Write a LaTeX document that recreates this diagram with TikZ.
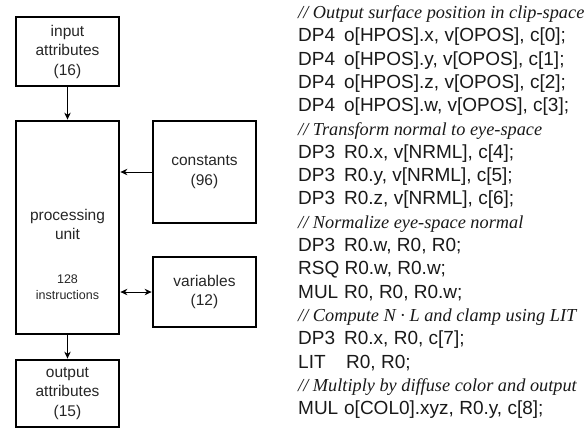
\documentclass[tikz,border=0pt]{standalone}
\usepackage{fontspec}
\setmainfont{Liberation Serif}
\setsansfont{Liberation Sans}
\usetikzlibrary{arrows.meta}
\newcommand{\mn}[2]{\makebox[#1pt][l]{#2}}
\begin{document}
\begin{tikzpicture}[x=1pt,y=-1pt,
 box/.style={draw=black, line width=1.8pt, rectangle, inner sep=0pt, minimum width=103pt,
   font=\sffamily\fontsize{15.5}{19.5}\selectfont, align=center, text=black!85},
 small/.style={font=\sffamily\fontsize{12.5}{15.5}\selectfont, align=center, text=black!85, inner sep=0pt},
 code/.style={font=\sffamily\fontsize{19}{22}\selectfont, anchor=base west, inner sep=0pt, text=black!90},
 cmt/.style={font=\rmfamily\itshape\fontsize{18.3}{22}\selectfont, anchor=base west, inner sep=0pt, text=black!90},
 arr/.style={line width=0.9pt, -{Stealth[length=7pt,width=6.5pt]}, shorten >=0.5pt},
 darr/.style={line width=0.9pt, {Stealth[length=7pt,width=6.5pt]}-{Stealth[length=7pt,width=6.5pt]}, shorten >=0.5pt, shorten <=0.5pt},
]
\useasboundingbox (0,0) rectangle (587,429);
% boxes
\node[box, minimum height=69pt] (in) at (67.5,51.5) {input\\attributes\\(16)};
\node[box, minimum height=213pt] (pu) at (67.5,227.5) {};
\node[small, font=\sffamily\fontsize{15.5}{19}\selectfont] (pul) at (67.5,224) {processing\\unit};
\node[small] (pui) at (67.5,287) {128\\instructions};
\node[box, minimum height=102pt] (con) at (204.5,172) {constants\\(96)};
\node[box, minimum height=70pt] (var) at (204.5,292) {variables\\(12)};
\node[box, minimum height=67pt] (out) at (67.5,393.5) {output\\attributes\\(15)};
% connectors
\draw[arr] (in.south) -- (pu.north);
\draw[arr] (pu.south) -- (out.north);
\draw[arr] (con.west) -- (pu.east |- con.west);
\draw[darr] (var.west) -- (pu.east |- var.west);
% code
\node[cmt]  (l1)  at (298,18.5)  {// Output surface position in clip-space};
\node[code] (l2)  at (298,41.8)  {\mn{46}{DP4}o[HPOS].x, v[OPOS], c[0];};
\node[code] (l3)  at (298,65.1)  {\mn{46}{DP4}o[HPOS].y, v[OPOS], c[1];};
\node[code] (l4)  at (298,88.4)  {\mn{46}{DP4}o[HPOS].z, v[OPOS], c[2];};
\node[code] (l5)  at (298,111.7) {\mn{46}{DP4}o[HPOS].w, v[OPOS], c[3];};
\node[cmt]  (l6)  at (298,135.0) {// Transform normal to eye-space};
\node[code] (l7)  at (298,158.3) {\mn{46}{DP3}R0.x, v[NRML], c[4];};
\node[code] (l8)  at (298,181.6) {\mn{46}{DP3}R0.y, v[NRML], c[5];};
\node[code] (l9)  at (298,204.9) {\mn{46}{DP3}R0.z, v[NRML], c[6];};
\node[cmt]  (l10) at (298,228.2) {// Normalize eye-space normal};
\node[code] (l11) at (298,251.5) {\mn{46}{DP3}R0.w, R0, R0;};
\node[code] (l12) at (298,274.8) {RSQ R0.w, R0.w;};
\node[code] (l13) at (298,298.1) {\mn{46}{MUL}R0, R0, R0.w;};
\node[cmt]  (l14) at (298,321.4) {// Compute N · L and clamp using LIT};
\node[code] (l15) at (298,344.7) {\mn{46}{DP3}R0.x, R0, c[7];};
\node[code] (l16) at (298,368.0) {\mn{48}{LIT}R0, R0;};
\node[cmt]  (l17) at (298,391.3) {// Multiply by diffuse color and output};
\node[code] (l18) at (298,414.6) {\mn{46}{MUL}o[COL0].xyz, R0.y, c[8];};
\end{tikzpicture}
\end{document}
